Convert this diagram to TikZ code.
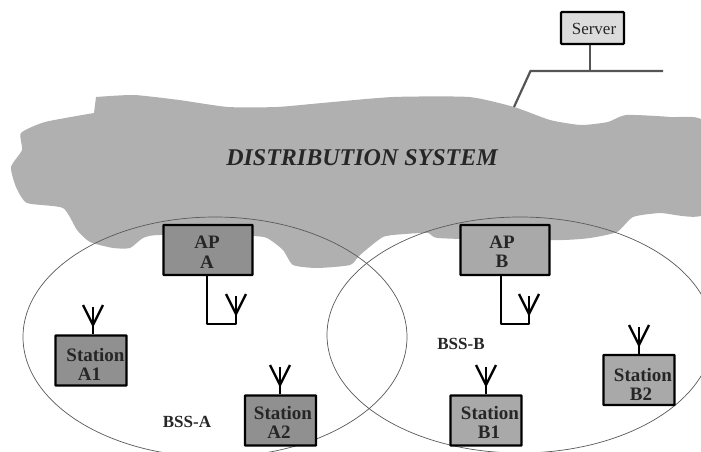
\documentclass[tikz,border=0pt]{standalone}
\usepackage{fontspec}
\setmainfont{Liberation Serif}
\usetikzlibrary{calc}
\definecolor{cloudgray}{HTML}{B0B0B0}
\definecolor{boxdark}{HTML}{909090}
\definecolor{boxlight}{HTML}{A9A9A9}
\definecolor{servfill}{HTML}{DCDCDC}
\definecolor{wiregray}{HTML}{555555}
\tikzset{
  x=1pt,y=-1pt,
  cloudshape/.style={fill=cloudgray,draw=none},
  bss/.style={draw=black!65,line width=0.7pt},
  boxbase/.style={draw=black,line width=2.4pt,inner sep=0pt,minimum width=71pt,minimum height=50pt,rounded corners=0.5pt},
  darkbox/.style={boxbase,fill=boxdark},
  lightbox/.style={boxbase,fill=boxlight},
  apsize/.style={minimum width=89pt,minimum height=50pt},
  lab/.style={font=\fontsize{19}{19.5}\selectfont\bfseries,align=center,inner sep=0pt,text=black!85},
  bsslab/.style={font=\fontsize{17}{20}\selectfont\bfseries,inner sep=0pt,text=black!85},
  wire/.style={draw=black,line width=2.2pt,line join=round},
  prong/.style={draw=black,line width=2.4pt,line cap=butt},
  netwire/.style={draw=wiregray,line width=2.2pt,line join=miter},
}
\newcommand{\antenna}[1]{%
  \draw[prong] (#1) ++(-10,-10) -- ++(10,20) -- ++(10,-20);
  \draw[prong] (#1) ++(0,-8) -- ++(0,18);
}
\begin{document}
\begin{tikzpicture}
\useasboundingbox (0,0) rectangle (701,452);
\clip (0,0) rectangle (701,452);
\fill[white] (0,0) rectangle (701,452);
% cloud
\fill[cloudshape] plot[smooth,tension=0.35] coordinates {
 (96,97) (134,95) (179,100) (228,107) (277,107) (322,103) (393,97) (469,97) (514,107)
 (550,120) (581,125) (608,122) (626,115) (670,117) (705,123)
 (705,213) (660,213) (633,217) (617,232) (590,238) (563,240) (500,240) (438,238) (428,233)
 (405,234) (383,237) (360,255) (350,265) (317,268) (293,265) (283,250) (267,238) (250,236)
 (160,235) (143,238) (130,248) (113,248) (90,242) (77,230) (63,208) (27,203) (16,187)
 (11,167) (22,150) (21,133) (45,122) (94,113)
} -- cycle;
% BSS ellipses
\draw[bss] (215,337) ellipse [x radius=192,y radius=120];
\draw[bss] (520,335) ellipse [x radius=193,y radius=118];
% network
\node[draw=black,line width=2.2pt,fill=servfill,inner sep=0pt,minimum width=63pt,minimum height=32pt,rounded corners=1pt] (server) at (592.5,28) {};
\node[font=\fontsize{17}{20}\selectfont,inner sep=0pt,text=black!85] (serverlab) at (594,29) {Server};
\coordinate (bus) at (590,71);
\coordinate (busl) at (530.5,71);
\coordinate (busr) at (663,71);
\coordinate (drop) at (514,107);
\draw[netwire] (server.south -| bus) -- (bus);
\draw[netwire] (drop) -- (busl) -- (busr);
% distribution label
\node[font=\fontsize{24}{28}\selectfont\bfseries\itshape,inner sep=0pt,text=black!85] (ds) at (362,158) {DISTRIBUTION SYSTEM};
% boxes
\node[darkbox,apsize] (apa) at (208,250) {};
\node[lightbox,apsize] (apb) at (505,250) {};
\node[darkbox] (sa1) at (91,360.5) {};
\node[darkbox] (sa2) at (280.5,420.5) {};
\node[lightbox] (sb1) at (486,420.5) {};
\node[lightbox] (sb2) at (639,380) {};
\node[lab] at (207,252) {AP\\A};
\node[lab] at (502,252) {AP\\B};
\node[lab] at (95.5,364) {Station\\[-0.5pt]\hspace*{-12pt}A1};
\node[lab] at (283,422) {Station\\[-0.5pt]\hspace*{-8pt}A2};
\node[lab] at (490,422) {Station\\[-0.5pt]\hspace*{-2pt}B1};
\node[lab] at (643,384) {Station\\[-0.5pt]\hspace*{-4pt}B2};
\node[bsslab] (bssa) at (187,422) {BSS-A};
\node[bsslab] (bssb) at (461,344) {BSS-B};
% antennas
\coordinate (aa) at (236,304);
\coordinate (ab) at (529,304);
\coordinate (a1) at (93,315);
\coordinate (a2) at (280,375);
\coordinate (b1) at (486,375);
\coordinate (b2) at (639,335);
\antenna{aa}\antenna{ab}\antenna{a1}\antenna{a2}\antenna{b1}\antenna{b2}
\draw[wire] (apa.south -| 207,0) |- (236,324) -- (aa);
\draw[wire] (apb.south -| 501,0) |- (529,324) -- (ab);
\draw[wire] (a1) -- (sa1.north -| a1);
\draw[wire] (a2) -- (sa2.north -| a2);
\draw[wire] (b1) -- (sb1.north -| b1);
\draw[wire] (b2) -- (sb2.north -| b2);
\end{tikzpicture}
\end{document}
